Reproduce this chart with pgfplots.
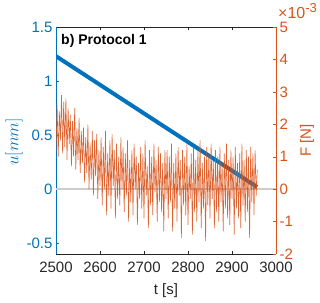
\documentclass[border=0pt]{standalone}
\usepackage{fontspec}
\setmainfont{Liberation Sans}
\usepackage{pgfplots}
\pgfplotsset{compat=1.18}
\definecolor{mblue}{rgb}{0,0.447,0.741}
\definecolor{morange}{rgb}{0.850,0.325,0.098}
\definecolor{mgray}{rgb}{0.15,0.15,0.15}
\definecolor{zgray}{rgb}{0.8,0.8,0.8}
\begin{document}
\begin{tikzpicture}
\pgfplotsset{
  common/.style={
    scale only axis, width=220pt, height=227pt,
    xmin=2500, xmax=3000,
    tick align=inside, major tick length=3pt,
    axis line style={-},
    /pgf/number format/assume math mode=true,
    /pgf/number format/1000 sep={},
    ticklabel style={font=\fontsize{15}{18}\selectfont},
  }
}
\begin{axis}[common,
  ymin=-0.6, ymax=1.5,
  axis x line*=box, axis y line*=left,
  x axis line style={mgray}, y axis line style={mblue, line width=0.6pt},
  xtick={2500,2600,...,3000}, ytick={-0.5,0,0.5,1,1.5},
  xtick style={mgray}, ytick style={mblue},
  xticklabel style={text=mgray, yshift=-4pt},
  yticklabel style={text=mblue, /pgf/number format/fixed},
  yticklabels={-0.5,0,0.5,1,1.5},
]
\addplot[zgray, line width=1.5pt] coordinates {(2500,0) (3000,0)};
\addplot[mblue, line width=4pt] coordinates {(2500,1.23) (2957,0.02)};
\node[anchor=north west, inner sep=0pt, font=\bfseries\fontsize{14}{16}\selectfont] at (axis description cs:0,1) [xshift=5pt, yshift=-7pt] {b) Protocol 1};
\end{axis}
\begin{axis}[common,
  ymin=-2, ymax=5,
  axis y line*=right, axis x line=none,
  y axis line style={morange, line width=0.6pt},
  ytick={-2,-1,0,1,2,3,4,5},
  ytick style={morange},
  yticklabel style={text=morange},
]
\addplot[morange, line width=0.6pt, opacity=0.9] coordinates {
(2500,1.2)(2502.5,2.6)(2505,1.0)(2507.5,2.4)(2510,1.5)(2512.5,2.9)(2515,1.1)(2517.5,2.7)(2520,1.3)(2522.5,2.8)(2525,0.9)(2527.5,2.5)(2530,1.4)
(2532.5,2.3)(2535,0.7)(2537.5,2.1)(2540,1.0)(2542.5,2.5)(2545,0.6)(2547.5,1.9)(2550,0.9)(2552.5,2.2)(2555,0.5)(2557.5,1.8)(2560,0.8)
(2562.5,1.9)(2565,0.2)(2567.5,1.6)(2570,0.5)(2572.5,2.0)(2575,0.0)(2577.5,1.4)(2580,0.3)(2582.5,1.8)(2585,-0.2)(2587.5,1.5)(2590,0.4)(2592.5,1.7)(2595,-0.3)(2597.5,1.2)(2600,0.1)
(2602.5,1.6)(2605,-0.5)(2607.5,1.3)(2610,0.0)(2612.5,1.8)(2615,-0.8)(2617.5,1.1)(2620,-0.2)(2622.5,1.5)(2625,-0.6)(2627.5,1.7)(2630,0.1)(2632.5,1.2)(2635,-0.9)(2637.5,1.4)(2640,-0.3)(2642.5,1.0)(2645,-0.5)(2647.5,1.6)(2650,0.0)
(2652.5,1.3)(2655,-0.7)(2657.5,1.1)(2660,-0.2)(2662.5,1.5)(2665,-1.0)(2667.5,0.9)(2670,-0.4)(2672.5,1.2)(2675,-0.8)(2677.5,1.4)(2680,0.0)(2682.5,1.0)(2685,-1.1)(2687.5,0.8)(2690,-0.3)(2692.5,1.3)(2695,-0.6)(2697.5,1.1)(2700,-0.9)
(2702.5,1.5)(2705,-0.2)(2707.5,0.7)(2710,-1.2)(2712.5,1.2)(2715,-0.5)(2717.5,1.0)(2720,-0.8)(2722.5,1.4)(2725,-0.1)(2727.5,0.9)(2730,-1.0)(2732.5,1.3)(2735,-0.4)(2737.5,1.1)(2740,-0.7)(2742.5,0.8)(2745,-1.3)(2747.5,1.2)(2750,-0.3)
(2752.5,1.2)(2755,-0.9)(2757.5,1.0)(2760,-0.4)(2762.5,1.4)(2765,-1.3)(2767.5,0.8)(2770,-0.6)(2772.5,1.1)(2775,-1.0)(2777.5,1.3)(2780,-0.2)(2782.5,0.9)(2785,-1.5)(2787.5,1.2)(2790,-0.5)(2792.5,1.0)(2795,-0.8)(2797.5,1.4)(2800,-1.1)
(2802.5,0.7)(2805,-0.3)(2807.5,1.1)(2810,-1.4)(2812.5,1.3)(2815,-0.7)(2817.5,0.9)(2820,-1.0)(2822.5,1.2)(2825,-0.4)(2827.5,1.5)(2830,-1.2)(2832.5,0.8)(2835,-0.6)(2837.5,1.0)(2840,-1.6)(2842.5,1.3)(2845,-0.5)(2847.5,1.1)(2850,-0.9)
(2852.5,1.4)(2855,-0.3)(2857.5,0.9)(2860,-1.2)(2862.5,1.2)(2865,-0.7)(2867.5,1.0)(2870,-1.0)(2872.5,1.3)(2875,-0.4)(2877.5,0.8)(2880,-1.3)(2882.5,1.1)(2885,-0.6)(2887.5,1.4)(2890,-0.9)(2892.5,0.9)(2895,-1.1)(2897.5,1.2)(2900,-0.3)
(2902.5,1.0)(2905,-1.4)(2907.5,1.3)(2910,-0.6)(2912.5,0.8)(2915,-0.9)(2917.5,1.1)(2920,-1.2)(2922.5,1.4)(2925,-0.5)(2927.5,0.9)(2930,-1.0)(2932.5,1.2)(2935,-0.7)(2937.5,1.0)(2940,-1.5)(2942.5,1.3)(2945,-0.4)(2947.5,1.1)(2950,-0.8)
(2952.5,1.2)(2955,-0.2)(2957.5,0.6)
};
\end{axis}
% labels
\node[rotate=90, text=mblue, font=\fontsize{17}{20}\selectfont] at (-42pt,112pt) {$u[mm]$};
\node[rotate=90, text=morange, font=\fontsize{15}{18}\selectfont] at (251pt,113.5pt) {F [N]};
\node[text=mgray, font=\fontsize{15}{18}\selectfont] at (110pt,-37pt) {t [s]};
\node[anchor=base west, inner sep=0pt, text=morange] at (222pt,235pt) {\fontsize{16}{18}\selectfont ×10\raisebox{6pt}{\fontsize{13}{15}\selectfont -3}};
\path (-56pt,-48pt) rectangle (264pt,254pt);
\end{tikzpicture}
\end{document}
